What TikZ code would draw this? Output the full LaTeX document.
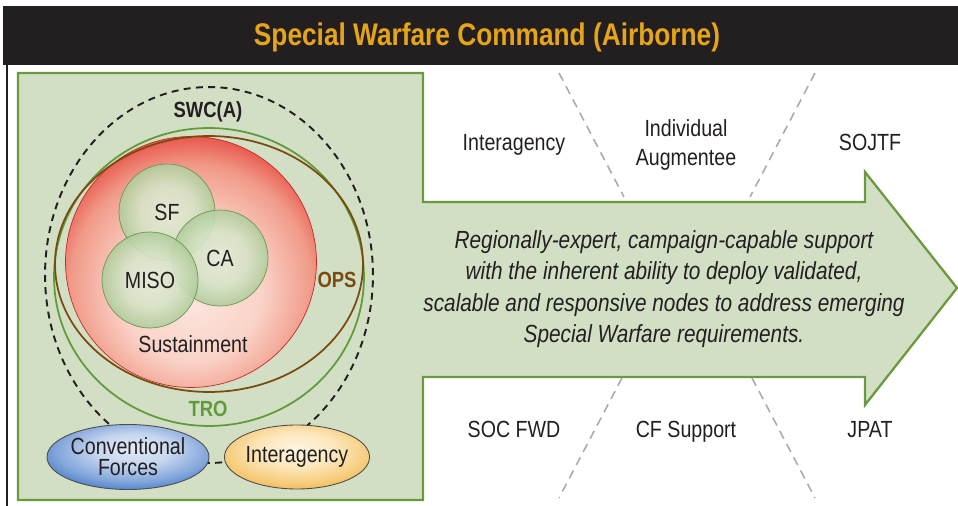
\documentclass[tikz,border=0pt]{standalone}
\usepackage{fontspec}
\setmainfont[FakeStretch=0.84]{Liberation Sans}
\usepackage{xcolor}
\usepackage{tikz}
\usetikzlibrary{shapes.geometric}

\definecolor{barblack}{HTML}{231F20}
\definecolor{titlegold}{HTML}{E6A419}
\definecolor{ink}{HTML}{231F20}
\definecolor{panelfill}{HTML}{D3DFC4}
\definecolor{panelline}{HTML}{6A9A3E}
\definecolor{troline}{HTML}{5F9B3C}
\definecolor{opsline}{HTML}{7A4B10}
\definecolor{sepgray}{HTML}{ABABAB}
\definecolor{ballline}{HTML}{6E9656}
\definecolor{sustline}{HTML}{C42A24}
% 渐变用的颜色
\definecolor{susta}{HTML}{FCE6DF}
\definecolor{sustb}{HTML}{FAD3C8}
\definecolor{sustc}{HTML}{F19A88}
\definecolor{sustd}{HTML}{E3352D}
\definecolor{suste}{HTML}{DA1F1F}
\definecolor{balla}{HTML}{E4EBD8}
\definecolor{ballb}{HTML}{D6E3C6}
\definecolor{ballc}{HTML}{ABC894}
\definecolor{balld}{HTML}{7FA866}
\definecolor{cfa}{HTML}{E2EAF7}
\definecolor{cfb}{HTML}{C6D6EF}
\definecolor{cfc}{HTML}{7FA3DA}
\definecolor{cfd}{HTML}{2F6DBE}
\definecolor{cfe}{HTML}{1A56A6}
\definecolor{iaa}{HTML}{FEF5E0}
\definecolor{iab}{HTML}{FCE8BE}
\definecolor{iac}{HTML}{F6CC7A}
\definecolor{iad}{HTML}{EBA93A}
\definecolor{iae}{HTML}{E0961A}

\pgfdeclareradialshading{sustshade}{\pgfpoint{0bp}{-7bp}}{color(0bp)=(susta); color(14bp)=(sustb); color(24bp)=(sustc); color(32bp)=(sustd); color(42bp)=(suste); color(72bp)=(suste)}
\pgfdeclareradialshading{greenball}{\pgfpoint{0bp}{0bp}}{color(0bp)=(balla); color(14bp)=(ballb); color(27bp)=(ballc); color(36bp)=(balld); color(72bp)=(balld)}
\pgfdeclareradialshading{cfshade}{\pgfpoint{2bp}{7bp}}{color(0bp)=(cfa); color(12bp)=(cfb); color(24bp)=(cfc); color(34bp)=(cfd); color(44bp)=(cfe); color(72bp)=(cfe)}
\pgfdeclareradialshading{iashade}{\pgfpoint{0bp}{7bp}}{color(0bp)=(iaa); color(13bp)=(iab); color(25bp)=(iac); color(35bp)=(iad); color(44bp)=(iae); color(72bp)=(iae)}

\begin{document}
\begin{tikzpicture}[x=0.02cm,y=-0.02cm,
	lbl/.style={font=\fontsize{13.3}{17}\selectfont, text=ink, inner sep=0pt},
	tag/.style={font=\bfseries\fontsize{12.5}{15}\selectfont, inner sep=0pt, anchor=base},
	ball/.style={circle, draw=ballline, line width=0.4pt, shade, shading=greenball, fill opacity=0.9, text opacity=1, minimum size=1.92cm, inner sep=0pt, lbl},
	blob/.style={ellipse, draw=ink!80, line width=0.5pt, shade, minimum width=2.68cm, minimum height=1.3cm, inner sep=0pt, align=center, lbl},
	ring/.style={ellipse, line width=1pt, inner sep=0pt},
	sepline/.style={sepgray, line width=0.9pt, dash pattern=on 5pt off 3.5pt}]
	\useasboundingbox (0,0) rectangle (958,506);
	% 标题栏
	\fill[barblack] (3,6) rectangle (958,65);
	\draw[barblack, line width=1pt] (7,65) -- (7,506);
	\node[font=\bfseries\fontsize{17.8}{20}\selectfont, text=titlegold, inner sep=0pt, anchor=base] (title) at (487,46) {Special Warfare Command (Airborne)};
	% 左框和箭头
	\draw[panelline, fill=panelfill, line width=1.3pt, line join=miter]
		(18,73) -- (423,73) -- (423,202) -- (865,202) -- (865,172) -- (957,288)
		-- (865,405) -- (865,377) -- (423,377) -- (423,500) -- (18,500) -- cycle;
	% 灰色虚线
	\foreach \xa/\xb in {559/624, 815/750}
		\draw[sepline] (\xa,73) -- (\xb,197);
	\foreach \xa/\xb in {622/559, 752/815}
		\draw[sepline] (\xa,378) -- (\xb,498);
	% 上下两排文字
	\node[lbl, anchor=base] (iatop) at (514,151) {Interagency};
	\node[lbl, anchor=base, align=center, font=\fontsize{13.3}{17}\selectfont] (indaug) at (686,166) {Individual\\Augmentee};
	\node[lbl, anchor=base] (sojtf) at (870,151) {SOJTF};
	\node[lbl, anchor=base] (socfwd) at (514,438) {SOC FWD};
	\node[lbl, anchor=base] (cfsup) at (686,438) {CF Support};
	\node[lbl, anchor=base] (jpat) at (870,438) {JPAT};
	% 箭头中的说明
	\node[lbl, anchor=base, align=center, font=\itshape\fontsize{14.1}{18}\selectfont] (desc) at (664,343)
		{Regionally-expert, campaign-capable support\\with the inherent ability to deploy validated,\\scalable and responsive nodes to address emerging\\Special Warfare requirements.};
	% 左边的圆
	\node[ring, draw=ink, dash pattern=on 4pt off 3pt, line width=1.1pt, minimum width=6.56cm, minimum height=7.52cm] (swc) at (209,275) {};
	\node[tag, text=ink] (swclbl) at (208,118) {SWC(A)};
	\node[ring, draw=troline, minimum width=6.2cm, minimum height=5.96cm] (tro) at (209,277) {};
	\node[tag, text=troline] (trolbl) at (208,417) {TRO};
	\node[circle, draw=sustline, line width=0.4pt, shade, shading=sustshade, minimum size=5.02cm, inner sep=0pt] (sust) at (191,262) {};
	\node[ring, draw=opsline, minimum width=6.16cm, minimum height=5.12cm] (ops) at (209,264) {};
	\node[tag, text=opsline] (opslbl) at (337,288) {OPS};
	\node[lbl, anchor=base] (sustlbl) at (193,353) {Sustainment};
	\node[ball] (sf) at (167,212) {SF};
	\node[ball] (ca) at (220,258) {CA};
	\node[ball] (miso) at (150,280) {MISO};
	% 下面两个椭圆
	\node[blob, shading=cfshade, font=\fontsize{13.3}{12}\selectfont] (cf) at (128,457) {Conventional\\Forces};
	\node[blob, shading=iashade, minimum height=1.28cm] (iag) at (297,457) {Interagency};
\end{tikzpicture}
\end{document}
